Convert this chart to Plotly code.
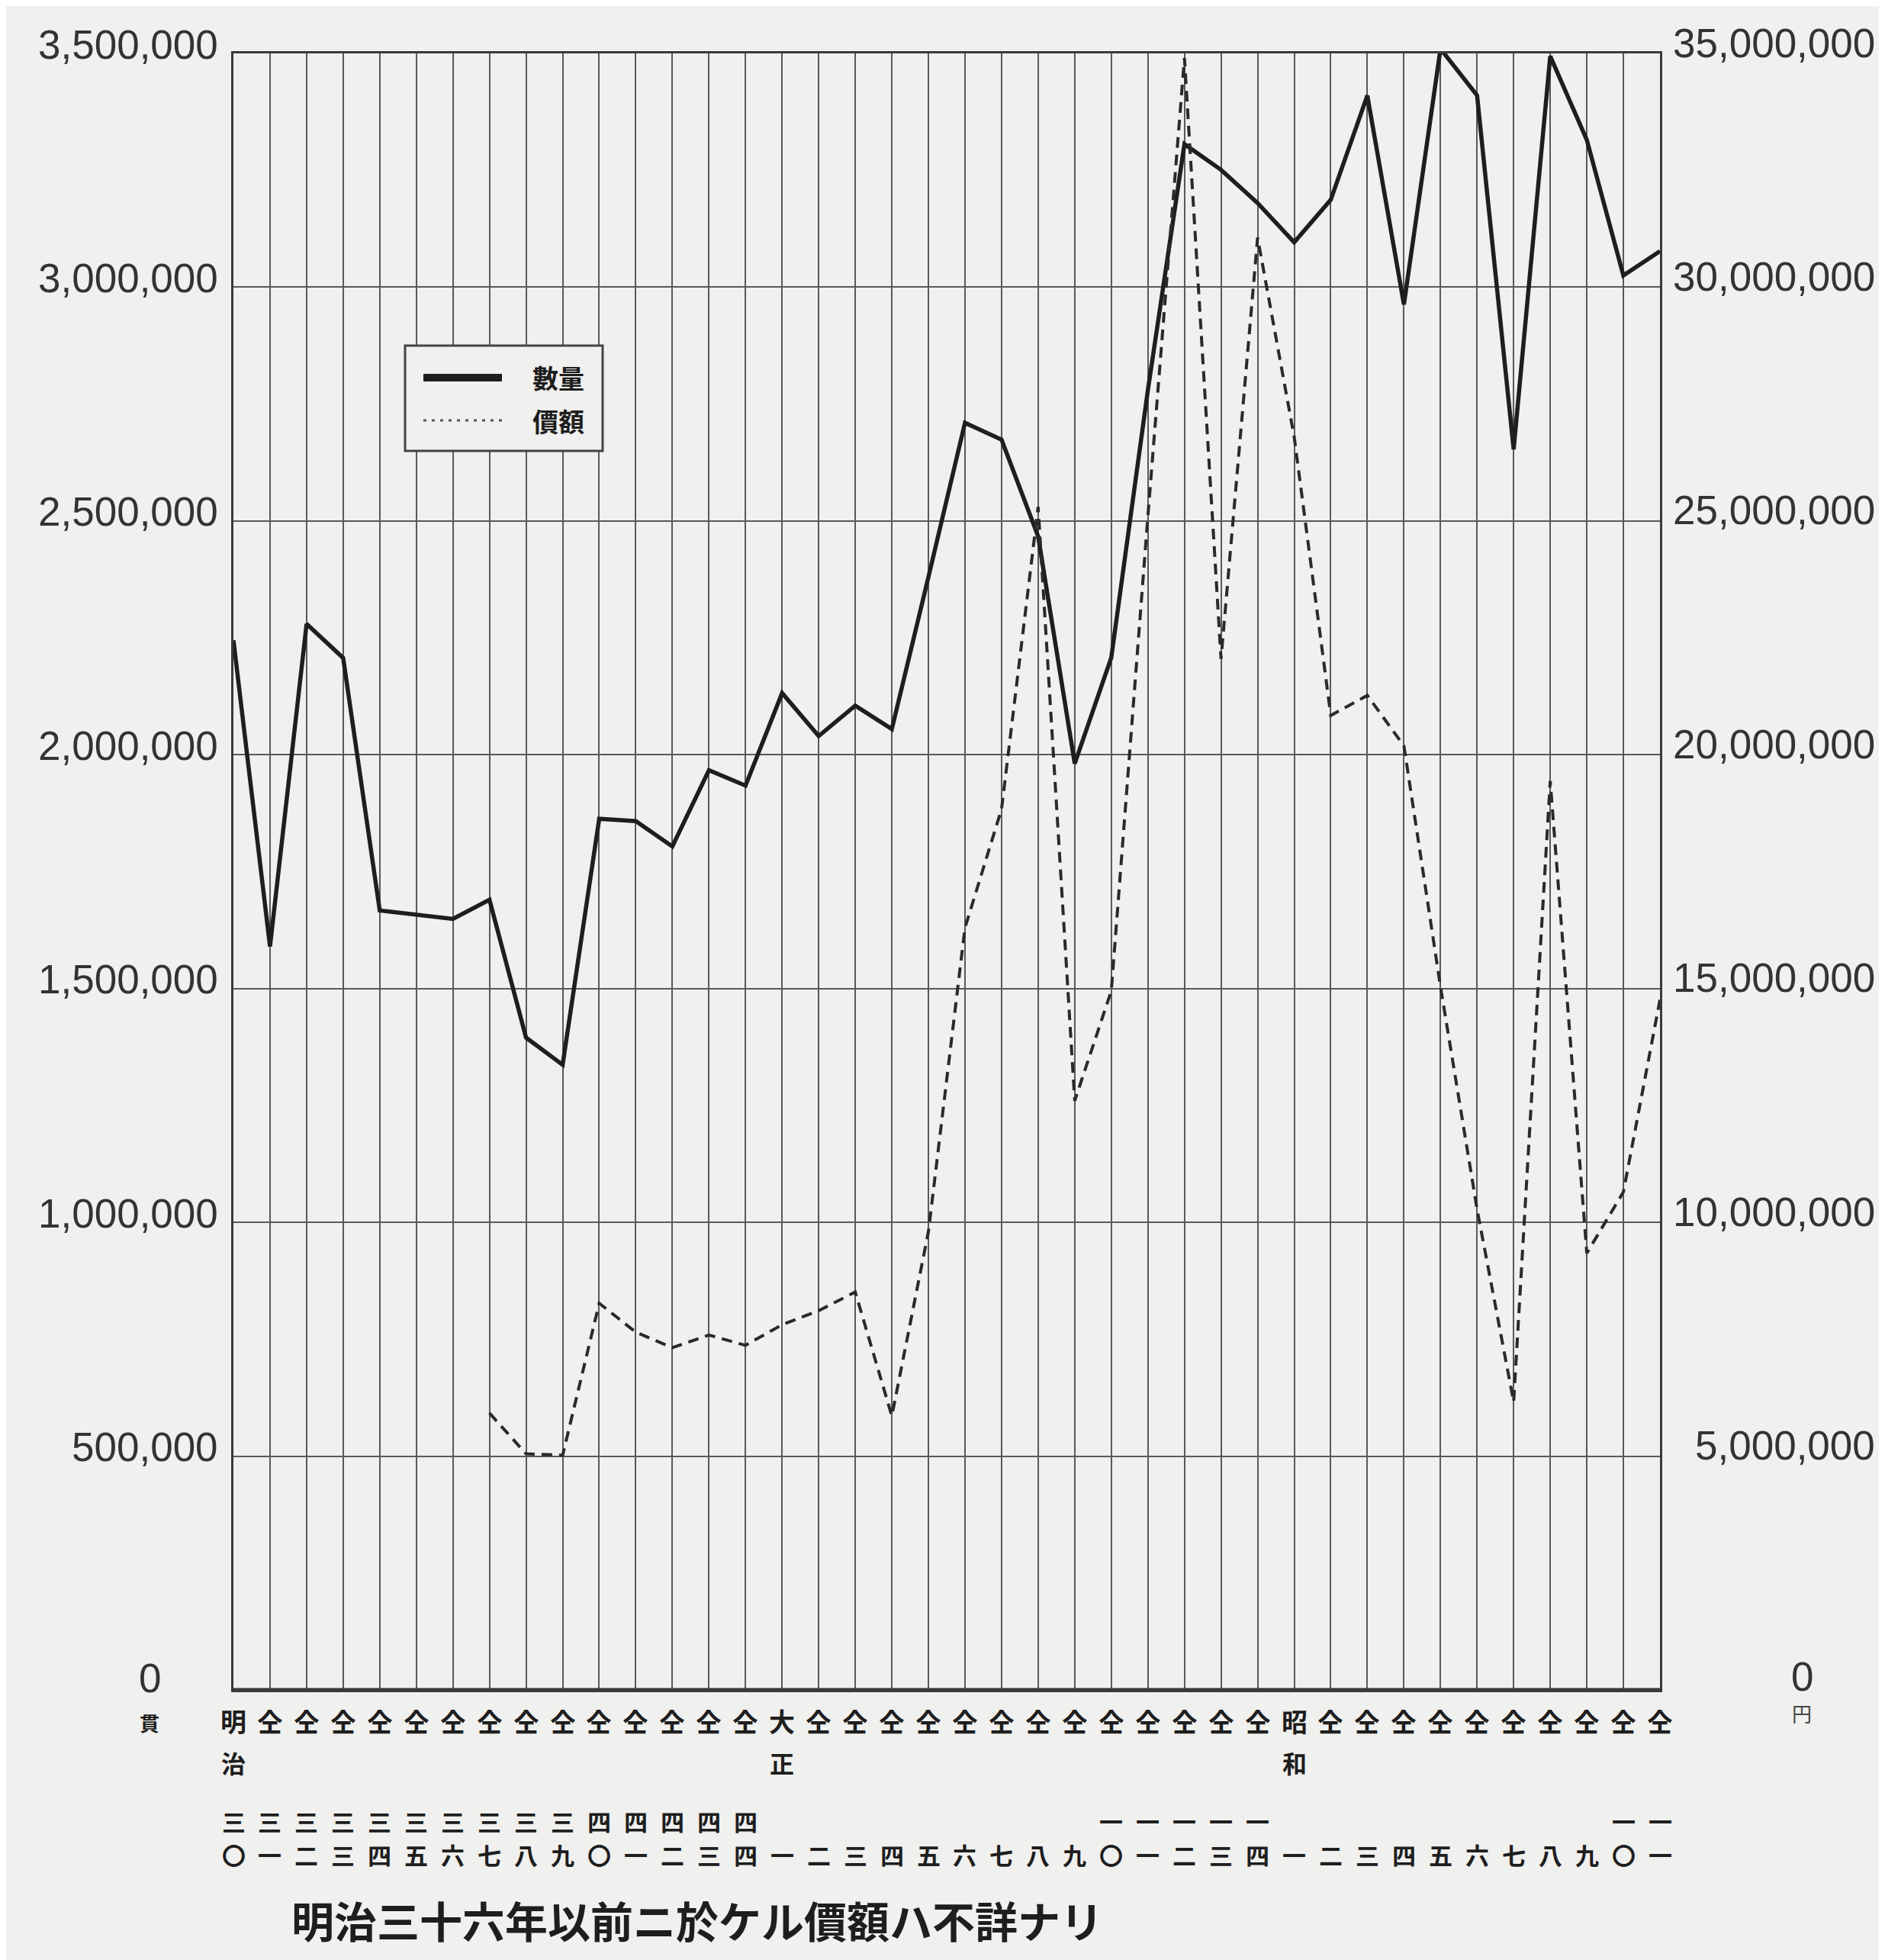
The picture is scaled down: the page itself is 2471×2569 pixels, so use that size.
import plotly.graph_objects as go

# ---------------- data ----------------
era_row1 = ["明"] + ["仝"] * 14 + ["大"] + ["仝"] * 13 + ["昭"] + ["仝"] * 10
era_row2 = ["治"] + [""] * 14 + ["正"] + [""] * 13 + ["和"] + [""] * 10
tens_row = (["三"] * 10 + ["四"] * 5 + [""] * 9 + ["一"] * 5 + [""] * 9 + ["一"] * 2)
ones_row = list("〇一二三四五六七八九〇一二三四") + list("一二三四五六七八九〇一二三四") + list("一二三四五六七八九〇一")

quantity = [2245000, 1590000, 2280000, 2207000, 1667000, 1658000, 1649000, 1690000,
            1395000, 1337000, 1863000, 1858000, 1804000, 1967000, 1934000, 2132000,
            2040000, 2105000, 2055000, 2380000, 2710000, 2674000, 2467000, 1981000,
            2208000, 2780000, 3306000, 3251000, 3180000, 3096000, 3187000, 3410000,
            2963000, 3510000, 3410000, 2653000, 3494000, 3315000, 3025000, 3077000]

value = [None, None, None, None, None, None, None, 5920000,
         5050000, 5020000, 8270000, 7650000, 7320000, 7590000, 7370000, 7810000,
         8110000, 8510000, 5860000, 9800000, 16300000, 18840000, 25300000, 12600000,
         14950000, 25100000, 34900000, 22050000, 31060000, 26800000, 20840000, 21270000,
         20190000, 15040000, 10280000, 6160000, 19440000, 9340000, 10650000, 14760000]

left_ticks = [500000, 1000000, 1500000, 2000000, 2500000, 3000000, 3500000]
right_ticks = [5000000, 10000000, 15000000, 20000000, 25000000, 30000000, 35000000]

series_names = ["數量", "價額"]
left_unit = "貫"
right_unit = "円"
footnote = "明治三十六年以前ニ於ケル價額ハ不詳ナリ"

# ---------------- layout constants ----------------
W, H = 2471, 2569
L, R, T, B = 298, 303, 62, 362
PW, PH = W - L - R, H - T - B
BG = "#f0f0ee"
INK = "#1e1e1e"
GRID = "#595959"
NUM_FONT = dict(family="Liberation Sans, Arial, sans-serif", size=53, color="#333333")
CJK = "Noto Sans CJK JP, Noto Sans CJK SC, sans-serif"


def px_x(px):
    return (px - L) / PW


def px_y(py):
    return (T + PH - py) / PH


idx = list(range(len(quantity)))

fig = go.Figure()
fig.add_trace(go.Scatter(
    x=idx, y=quantity, mode="lines", name=series_names[0], showlegend=False,
    line=dict(color=INK, width=5.5), cliponaxis=False, hoverinfo="skip"))
fig.add_trace(go.Scatter(
    x=idx, y=value, mode="lines", name=series_names[1], yaxis="y2", showlegend=False,
    line=dict(color="#2a2a2a", width=4, dash="14px,9px"), cliponaxis=False,
    connectgaps=False, hoverinfo="skip"))

annotations = []
# left-hand axis labels
for v in left_ticks:
    annotations.append(dict(text=f"{v:,}", xref="paper", x=0, xanchor="right", xshift=-18,
                            yref="y", y=v, yanchor="middle", yshift=12, showarrow=False,
                            font=NUM_FONT))
# right-hand axis labels (right aligned like the original)
for v in right_ticks:
    annotations.append(dict(text=f"{v:,}", xref="paper", x=1, xanchor="right", xshift=284,
                            yref="y2", y=v, yanchor="middle", yshift=14, showarrow=False,
                            font=NUM_FONT))
# zero labels with units
annotations.append(dict(text="0", xref="paper", x=0, xanchor="center", xshift=-110,
                        yref="y", y=0, yshift=16, yanchor="middle", showarrow=False, font=NUM_FONT))
annotations.append(dict(text=left_unit, xref="paper", x=0, xanchor="center", xshift=-110,
                        yref="y", y=0, yshift=-42, yanchor="middle", showarrow=False,
                        font=dict(family=CJK, size=26, color=INK, weight="bold")))
annotations.append(dict(text="0", xref="paper", x=1, xanchor="center", xshift=186,
                        yref="y", y=0, yshift=18, yanchor="middle", showarrow=False, font=NUM_FONT))
annotations.append(dict(text=right_unit, xref="paper", x=1, xanchor="center", xshift=186,
                        yref="y", y=0, yshift=-30, yanchor="middle", showarrow=False,
                        font=dict(family=CJK, size=26, color="#444444")))

# category label rows under the x axis
rows = [(era_row1, -40, 34), (era_row2, -95, 32), (tens_row, -171, 31), (ones_row, -215, 31)]
for labels, shift, size in rows:
    for i, t in enumerate(labels):
        if t:
            annotations.append(dict(text=t, xref="x", x=i, xanchor="center", yref="paper", y=0,
                                    yshift=shift, yanchor="middle", showarrow=False,
                                    font=dict(family=CJK, size=size, color=INK, weight="bold")))

# footnote
annotations.append(dict(text=footnote, xref="paper", x=px_x(372), xanchor="left",
                        yref="paper", y=px_y(2507), yanchor="middle", showarrow=False,
                        font=dict(family=CJK, size=56, color=INK, weight="bold")))

# legend (drawn like the original boxed key)
shapes = [
    dict(type="rect", xref="paper", yref="paper", x0=px_x(523), x1=px_x(782),
         y0=px_y(583), y1=px_y(445), line=dict(color="#444444", width=3),
         fillcolor=BG, layer="above"),
    dict(type="line", xref="paper", yref="paper", x0=px_x(547), x1=px_x(650),
         y0=px_y(487), y1=px_y(487), line=dict(color=INK, width=10), layer="above"),
    dict(type="line", xref="paper", yref="paper", x0=px_x(547), x1=px_x(655),
         y0=px_y(543), y1=px_y(543), line=dict(color="#555555", width=3, dash="4px,7px"),
         layer="above"),
    # heavier bottom rule like the original
    dict(type="line", xref="paper", yref="paper", x0=0, x1=1, y0=0, y1=0,
         line=dict(color="#3a3a3a", width=5), layer="above"),
]
for name, py in zip(series_names, [487, 543]):
    annotations.append(dict(text=name, xref="paper", x=px_x(724), xanchor="center",
                            yref="paper", y=px_y(py), yanchor="middle", showarrow=False,
                            font=dict(family=CJK, size=34, color=INK, weight="bold")))

fig.update_layout(
    width=W, height=H, autosize=False,
    margin=dict(l=L, r=R, t=T, b=B, pad=0),
    paper_bgcolor=BG, plot_bgcolor=BG,
    showlegend=False,
    xaxis=dict(range=[0, len(idx) - 1], tickvals=idx, showticklabels=False, ticks="",
               showgrid=True, gridcolor=GRID, gridwidth=2, zeroline=False,
               showline=True, mirror=True, linecolor="#3a3a3a", linewidth=3),
    yaxis=dict(range=[0, 3500000], tickvals=left_ticks, showticklabels=False, ticks="",
               showgrid=True, gridcolor=GRID, gridwidth=2, zeroline=False,
               showline=True, mirror=True, linecolor="#3a3a3a", linewidth=3),
    yaxis2=dict(range=[0, 35000000], overlaying="y", side="right", showticklabels=False,
                showgrid=False, zeroline=False, showline=False, ticks=""),
    annotations=annotations,
    shapes=shapes,
)

fig.write_html("out.html")
